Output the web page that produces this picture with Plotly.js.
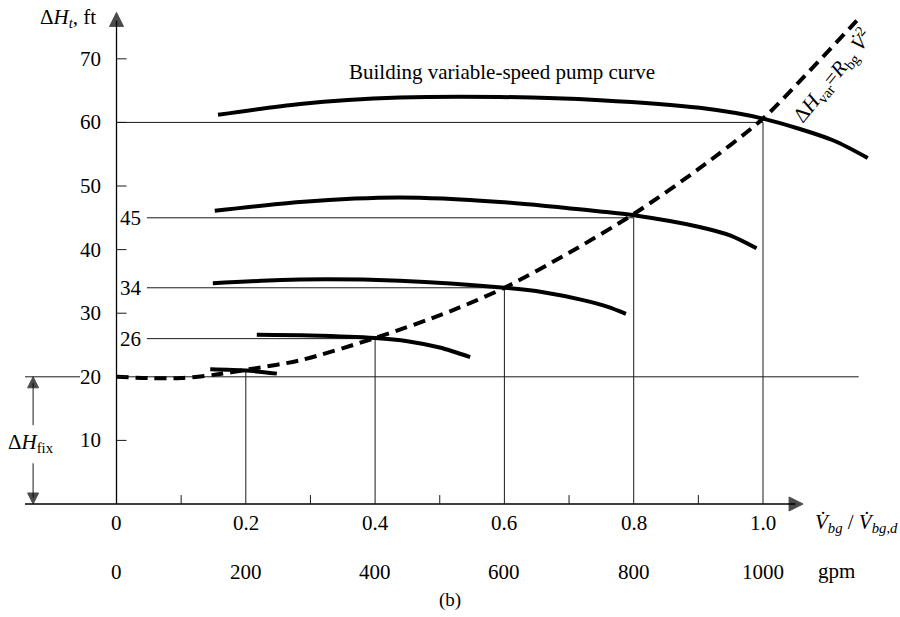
<!DOCTYPE html>
<html>
<head>
<meta charset="utf-8">
<script src="https://cdn.plot.ly/plotly-3.0.1.min.js"></script>
<style>html,body{margin:0;padding:0;background:#fff;}#chart{width:900px;height:617px;}</style>
</head>
<body>
<div id="chart"></div>
<script>
// ---- data ----
const flowTicks = [0, 0.2, 0.4, 0.6, 0.8, 1.0];
const flowTickLabels = ["0", "0.2", "0.4", "0.6", "0.8", "1.0"];
const gpmLabels = ["0", "200", "400", "600", "800", "1000"];
const minorFlowTicks = [0.1, 0.3, 0.5, 0.7, 0.9];
const headTicks = [10, 20, 30, 40, 50, 60, 70];
const headTickLabels = ["10", "20", "30", "40", "50", "60", "70"];

// operating points (intersection of pump curves with system curve)
const opFlow = [0.2, 0.4, 0.6, 0.8, 1.0];
const opHead = [21, 26, 34, 45, 60];
const opLabels = ["", "26", "34", "45", ""];

// fixed head
const fixedHead = 20;
const fixedLineEnd = 1.148;

// pump curves at various speeds
const pump60X = [0.157, 0.284, 0.438, 0.593, 0.748, 0.902, 1.0, 1.108, 1.162];
const pump60Y = [61.2, 62.9, 63.9, 64.0, 63.5, 62.3, 60.6, 57.2, 54.4];
const pump45X = [0.152, 0.284, 0.438, 0.593, 0.748, 0.8, 0.9, 0.95, 0.99];
const pump45Y = [46.1, 47.5, 48.2, 47.5, 46.0, 45.4, 43.6, 42.2, 40.2];
const pump34X = [0.149, 0.284, 0.438, 0.6, 0.66, 0.72, 0.76, 0.788];
const pump34Y = [34.7, 35.3, 35.1, 34.0, 33.3, 32.1, 31.0, 29.9];
const pump26X = [0.217, 0.3, 0.4, 0.45, 0.5, 0.547];
const pump26Y = [26.6, 26.5, 26.1, 25.6, 24.6, 23.1];
const pump21X = [0.145, 0.2, 0.248];
const pump21Y = [21.2, 21.0, 20.5];

// system curve
const sysX = [0, 0.05, 0.1, 0.15, 0.2, 0.284, 0.4, 0.516, 0.6, 0.7, 0.8, 0.902, 1.0, 1.057, 1.145];
const sysY = [20, 19.8, 19.8, 20.3, 21.1, 22.6, 26.1, 30.3, 34.0, 39.5, 45.6, 52.8, 60.6, 66.5, 76.0];

// ---- drawing ----
const FONT = "Liberation Serif, Times New Roman, serif";
const thin = {color: "#1a1a1a", width: 1};
const traces = [];
function line(xs, ys, style) {
  traces.push({x: xs, y: ys, mode: "lines", line: style, hoverinfo: "skip", showlegend: false});
}

// axes
line([0, 0], [0, 76], {color: "#000", width: 1.3});
line([-0.1415, 1.05], [0, 0], {color: "#000", width: 1.3});
// ΔH_fix dimension line (broken around its label)
line([-0.129, -0.129], [fixedHead - 1, 12.4], thin);
line([-0.129, -0.129], [1, 6.4], thin);
line([-0.1415, -0.0565], [fixedHead, fixedHead], thin);
// arrowheads (tips at the given points)
traces.push({x: [0, 1.062, -0.129, -0.129], y: [77.3, 0, fixedHead, 0], mode: "markers",
  marker: {symbol: ["arrow-up", "arrow-right", "arrow-up", "arrow-down"], size: [14, 14, 11, 11], color: "#000", line: {width: 1, color: "#000"}},
  hoverinfo: "skip", showlegend: false});

// vertical operating-point lines
opFlow.forEach((f, i) => line([f, f], [0, opHead[i]], thin));
// horizontal operating-point lines
opFlow.forEach((f, i) => {
  if (i === 0) return;
  const start = (i === opFlow.length - 1) ? 0 : 0.047;
  line([start, f], [opHead[i], opHead[i]], thin);
});
// fixed-head line
line([0, fixedLineEnd], [fixedHead, fixedHead], thin);

// pump curves
[[pump60X, pump60Y], [pump45X, pump45Y], [pump34X, pump34Y], [pump26X, pump26Y], [pump21X, pump21Y]].forEach(c => {
  line(c[0], c[1], {color: "#000", width: 4, shape: "spline", smoothing: 0.8});
});
// system curve
line(sysX, sysY, {color: "#000", width: 4, dash: "12px,7px", shape: "spline", smoothing: 0.8});

const shapes = [];
headTicks.forEach(t => shapes.push({type: "line", xref: "x", yref: "y", x0: 0, x1: 0.0155, y0: t, y1: t, line: thin}));
minorFlowTicks.forEach(t => shapes.push({type: "line", xref: "x", yref: "y", x0: t, x1: t, y0: 0, y1: 1.4, line: thin}));

const ann = [];
const base = {showarrow: false, font: {family: FONT, size: 21, color: "#000"}};

// tick labels
headTicks.forEach((t, i) => ann.push(Object.assign({}, base, {x: 0, y: t, xref: "x", yref: "y", xanchor: "right", yanchor: "middle", xshift: -14, text: headTickLabels[i]})));
flowTicks.forEach((t, i) => {
  ann.push(Object.assign({}, base, {x: t, y: 0, xref: "x", yref: "y", xanchor: "center", yanchor: "middle", yshift: -19, text: flowTickLabels[i]}));
  ann.push(Object.assign({}, base, {x: t, y: 0, xref: "x", yref: "y", xanchor: "center", yanchor: "middle", yshift: -68, text: gpmLabels[i]}));
});
// operating head labels
opHead.forEach((h, i) => {
  if (!opLabels[i]) return;
  ann.push(Object.assign({}, base, {x: 0, y: h, xref: "x", yref: "y", xanchor: "center", yanchor: "middle", xshift: 14, text: opLabels[i]}));
});

// text labels
ann.push(Object.assign({}, base, {x: -0.075, y: 76.4, xref: "x", yref: "y", text: "Δ<i>H</i><sub><i>t</i></sub>, ft"}));
ann.push(Object.assign({}, base, {x: -0.133, y: 9.6, xref: "x", yref: "y", text: "Δ<i>H</i><sub>fix</sub>"}));
ann.push(Object.assign({}, base, {x: 0.596, y: 67.9, xref: "x", yref: "y", font: {family: FONT, size: 21, color: "#000"}, text: "Building variable-speed pump curve"}));
ann.push(Object.assign({}, base, {x: 1.106, y: 67.3, xref: "x", yref: "y", textangle: -51, font: {family: FONT, size: 21, color: "#000"},
  text: "Δ<i>H</i><sub>var</sub>=<i>R</i><sub>bg</sub> <i>V̇</i><sup>2</sup>"}));
ann.push(Object.assign({}, base, {x: 1.144, y: -3.0, xref: "x", yref: "y", text: "<i>V̇</i><sub><i>bg</i></sub> / <i>V̇</i><sub><i>bg,d</i></sub>"}));
ann.push(Object.assign({}, base, {x: 1.113, y: -10.5, xref: "x", yref: "y", text: "gpm"}));
ann.push(Object.assign({}, base, {x: 0.516, y: -15.1, xref: "x", yref: "y", font: {family: FONT, size: 19, color: "#000"}, text: "(b)"}));

const layout = {
  width: 900, height: 617,
  margin: {l: 0, r: 0, t: 0, b: 0},
  paper_bgcolor: "#fff", plot_bgcolor: "#fff",
  xaxis: {range: [-0.1802, 1.2119], visible: false, fixedrange: true},
  yaxis: {range: [-17.77, 79.25], visible: false, fixedrange: true},
  shapes: shapes,
  annotations: ann,
  showlegend: false
};
Plotly.newPlot("chart", traces, layout, {staticPlot: true, displayModeBar: false});
</script>
</body>
</html>
